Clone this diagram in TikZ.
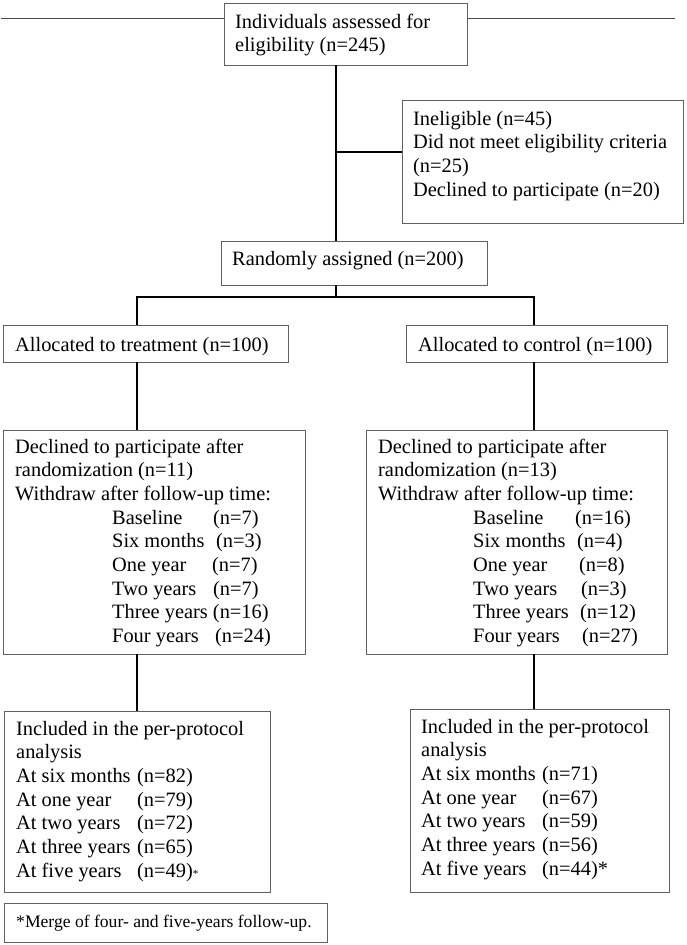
\documentclass[tikz,border=0pt]{standalone}
\usepackage{fontspec}
\setmainfont{Liberation Serif}
% fixed-width label followed by its count
\newcommand\cell[2]{\makebox[#1pt][l]{#2}}
\begin{document}
\begin{tikzpicture}[x=1pt,y=-1pt,
  box/.style={draw=black!62, line width=1pt, anchor=north west, inner sep=0pt, outer sep=0pt},
  conn/.style={draw=black, line width=2pt},
  rule/.style={draw=black!70, line width=1pt},
  txt/.style={anchor=north west, inner sep=0pt, align=left, yshift=16.55pt,
              font=\fontsize{20.4}{23.65}\selectfont},
  note/.style={anchor=base west, inner sep=0pt, font=\fontsize{17.6}{20}\selectfont}]
\useasboundingbox (0,0) rectangle (686,945);

% boxes
\node[box, minimum width=243pt, minimum height=62pt]  (top)    at (224,3)   {};
\node[box, minimum width=281pt, minimum height=123pt] (inel)   at (402,100) {};
\node[box, minimum width=266pt, minimum height=44pt]  (rand)   at (221,241) {};
\node[box, minimum width=285pt, minimum height=37pt]  (allocT) at (3,325)   {};
\node[box, minimum width=261pt, minimum height=37pt]  (allocC) at (406,325) {};
\node[box, minimum width=302pt, minimum height=224pt] (declT)  at (3,430)   {};
\node[box, minimum width=301pt, minimum height=224pt] (declC)  at (366,430) {};
\node[box, minimum width=266pt, minimum height=181pt] (inclT)  at (4,711)   {};
\node[box, minimum width=259pt, minimum height=183pt] (inclC)  at (410,709) {};
\node[box, minimum width=323pt, minimum height=39pt]  (foot)   at (4,903)   {};

% texts
\node[txt] (topT) at (235,28) {\strut Individuals assessed for\\eligibility (n=245)};
\node[txt] (inelT) at (413,125) {\strut Ineligible (n=45)\\Did not meet eligibility criteria\\(n=25)\\Declined to participate (n=20)};
\node[txt] (randT) at (232,265) {\strut Randomly assigned (n=200)};
\node[txt] (allocTT) at (15,351) {\strut Allocated to treatment (n=100)};
\node[txt] (allocCT) at (418,351) {\strut Allocated to control (n=100)};
\node[txt] (declTT) at (15,453) {\strut Declined to participate after\\
  randomization (n=11)\\
  Withdraw after follow-up time:\\
  \hspace*{97pt}\cell{101}{Baseline}(n=7)\\
  \hspace*{97pt}\cell{104}{Six months}(n=3)\\
  \hspace*{97pt}\cell{100}{One year}(n=7)\\
  \hspace*{97pt}\cell{101}{Two years}(n=7)\\
  \hspace*{97pt}Three years (n=16)\\
  \hspace*{97pt}\cell{103}{Four years}(n=24)};
\node[txt] (declCT) at (378,453) {\strut Declined to participate after\\
  randomization (n=13)\\
  Withdraw after follow-up time:\\
  \hspace*{95pt}\cell{102}{Baseline}(n=16)\\
  \hspace*{95pt}\cell{104}{Six months}(n=4)\\
  \hspace*{95pt}\cell{106}{One year}(n=8)\\
  \hspace*{95pt}\cell{108}{Two years}(n=3)\\
  \hspace*{95pt}\cell{107}{Three years}(n=12)\\
  \hspace*{95pt}\cell{109}{Four years}(n=27)};
\node[txt] (inclTT) at (16,735) {\strut Included in the per-protocol\\
  analysis\\
  \cell{121}{At six months}(n=82)\\
  \cell{121}{At one year}(n=79)\\
  \cell{121}{At two years}(n=72)\\
  \cell{121}{At three years}(n=65)\\
  \cell{121}{At five years}(n=49){\fontsize{11}{11}\selectfont *}};
\node[txt] (inclCT) at (421,733) {\strut Included in the per-protocol\\
  analysis\\
  \cell{121}{At six months}(n=71)\\
  \cell{121}{At one year}(n=67)\\
  \cell{121}{At two years}(n=59)\\
  \cell{121}{At three years}(n=56)\\
  \cell{121}{At five years}(n=44)*};
\node[note] (footT) at (16,927) {*Merge of four- and five-years follow-up.};

% header rule on both sides of the first box
\coordinate (rL) at (1,18);
\coordinate (rR) at (675,18);
\draw[rule] (rL) -- (rL -| top.west);
\draw[rule] (top.east |- rR) -- (rR);

% connector lines
\coordinate (sM) at (336,0);
\coordinate (sL) at (137,0);
\coordinate (sR) at (534,0);
\coordinate (jI) at (336,152);
\coordinate (jS) at (336,297);
\draw[conn] (top.south -| sM) -- (rand.north -| sM);
\draw[conn] (jI) -- (jI -| inel.west);
\draw[conn] (rand.south -| sM) -- (jS);
\draw[conn] (allocT.north -| sL) |- (jS) -| (allocC.north -| sR);
\draw[conn] (allocT.south -| sL) -- (declT.north -| sL);
\draw[conn] (allocC.south -| sR) -- (declC.north -| sR);
\draw[conn] (declT.south -| sL) -- (inclT.north -| sL);
\draw[conn] (declC.south -| sR) -- (inclC.north -| sR);
\end{tikzpicture}
\end{document}
